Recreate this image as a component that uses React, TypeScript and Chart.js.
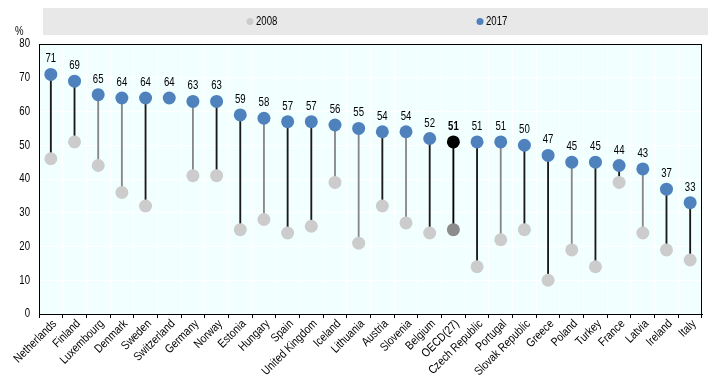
import React, { useEffect, useRef } from "react";
import { Chart, registerables } from "chart.js";

Chart.register(...registerables);

const countries = [
  "Netherlands", "Finland", "Luxembourg", "Denmark", "Sweden", "Switzerland", "Germany", "Norway", "Estonia",
  "Hungary", "Spain", "United Kingdom", "Iceland", "Lithuania", "Austria", "Slovenia", "Belgium", "OECD(27)",
  "Czech Republic", "Portugal", "Slovak Republic", "Greece", "Poland", "Turkey", "France", "Latvia", "Ireland", "Italy",
];
const values2017 = [71, 69, 65, 64, 64, 64, 63, 63, 59, 58, 57, 57, 56, 55, 54, 54, 52, 51, 51, 51, 50, 47, 45, 45, 44, 43, 37, 33];
const values2008: (number | null)[] = [46, 51, 44, 36, 32, null, 41, 41, 25, 28, 24, 26, 39, 21, 32, 27, 24, 25, 14, 22, 25, 10, 19, 14, 39, 24, 19, 16];
// line style group: "k" black, "g" grey
const lineGroup = ["k", "k", "g", "g", "k", "k", "g", "k", "k", "g", "k", "k", "g", "g", "k", "g", "k", "k", "k", "g", "k", "k", "g", "k", "k", "g", "k", "k"];
const yTicks = [0, 10, 20, 30, 40, 50, 60, 70, 80];
const legendLabels = ["2008", "2017"];

const FONT = "'Liberation Sans', Arial, sans-serif";
const SQUEEZE = 0.8;
const BLUE = "#4f81bd";
const LIGHT = "#cccccc";
const OECD = "OECD(27)";

function narrowText(
  ctx: CanvasRenderingContext2D,
  text: string,
  x: number,
  y: number,
  align: CanvasTextAlign,
  baseline: CanvasTextBaseline,
  opts: { rot?: number; bold?: boolean; size?: number; squeeze?: number } = {}
) {
  ctx.save();
  ctx.translate(x, y);
  if (opts.rot) ctx.rotate(opts.rot);
  ctx.scale(opts.squeeze ?? SQUEEZE, 1);
  ctx.font = `${opts.bold ? "bold " : ""}${opts.size ?? 12}px ${FONT}`;
  ctx.fillStyle = "#000";
  ctx.textAlign = align;
  ctx.textBaseline = baseline;
  ctx.fillText(text, 0, 0);
  ctx.restore();
}

export default function App() {
  const ref = useRef<HTMLCanvasElement>(null);
  useEffect(() => {
    const canvas = ref.current!;
    const isOecd = countries.map((c) => c === OECD);

    const bgPlugin = {
      id: "bg",
      beforeDraw(chart: any) {
        const { ctx, chartArea: a } = chart;
        ctx.save();
        ctx.fillStyle = "#f2ffff";
        ctx.fillRect(a.left, a.top, a.right - a.left, a.bottom - a.top);
        // legend box
        ctx.fillStyle = "#e8e8e8";
        ctx.fillRect(43, 8, 665, 27);
        const items = [
          { x: 256, color: LIGHT, label: legendLabels[0] },
          { x: 486, color: BLUE, label: legendLabels[1] },
        ];
        items.forEach((it) => {
          ctx.fillStyle = it.color;
          ctx.beginPath();
          ctx.arc(it.x - 6, 21.5, 3.5, 0, Math.PI * 2);
          ctx.fill();
          narrowText(ctx, it.label, it.x, 22, "left", "middle");
        });
        narrowText(ctx, "%", 15, 35, "left", "alphabetic");
        ctx.restore();
      },
      afterDraw(chart: any) {
        const { ctx, chartArea: a } = chart;
        ctx.save();
        ctx.strokeStyle = "#000";
        ctx.lineWidth = 1;
        ctx.strokeRect(a.left + 0.5, a.top + 0.5, a.right - a.left - 1, a.bottom - a.top);
        ctx.restore();
        // value labels
        const meta = chart.getDatasetMeta(2);
        meta.data.forEach((pt: any, i: number) => {
          narrowText(ctx, String(values2017[i]), pt.x, pt.y - 12, "center", "alphabetic", { bold: isOecd[i] });
        });
        // x labels
        const xs = chart.scales.x;
        countries.forEach((c, i) => {
          const px = xs.getPixelForTick(i);
          narrowText(ctx, c, px + 4, a.bottom + 8, "right", "middle", { rot: -Math.PI / 4, squeeze: 0.85 });
        });
        // y labels
        const ys = chart.scales.y;
        yTicks.forEach((v) => {
          narrowText(ctx, String(v), a.left - 9, ys.getPixelForValue(v), "right", "middle");
        });
      },
    };

    const chart = new Chart(canvas, {
      data: {
        labels: countries,
        datasets: [
          {
            type: "bar",
            label: "range",
            data: countries.map((_, i) => (values2008[i] == null ? null : [values2008[i], values2017[i]])) as any,
            backgroundColor: lineGroup.map((g, i) => (isOecd[i] ? "#000" : g === "k" ? "#1a1a1a" : "#888888")),
            barThickness: 1.2,
            grouped: false,
            order: 3,
          },
          {
            type: "line",
            label: legendLabels[0],
            data: values2008 as any,
            showLine: false,
            pointRadius: 6.5,
            pointHoverRadius: 6.5,
            pointBackgroundColor: isOecd.map((o) => (o ? "#8c8c8c" : LIGHT)),
            pointBorderWidth: 0,
            order: 2,
          },
          {
            type: "line",
            label: legendLabels[1],
            data: values2017,
            showLine: false,
            pointRadius: 6.5,
            pointHoverRadius: 6.5,
            pointBackgroundColor: isOecd.map((o) => (o ? "#000" : BLUE)),
            pointBorderWidth: 0,
            order: 1,
          },
        ],
      },
      options: {
        animation: false,
        responsive: false,
        maintainAspectRatio: false,
        layout: { padding: { top: 44, right: 18, left: 0, bottom: 0 } },
        plugins: { legend: { display: false }, tooltip: { enabled: false } },
        scales: {
          x: {
            offset: true,
            grid: { offset: true, color: "#ffffff", tickColor: "#000", tickLength: 4, drawOnChartArea: true },
            border: { color: "#000", width: 1 },
            ticks: {
              autoSkip: false,
              maxRotation: 0,
              minRotation: 0,
              color: "rgba(0,0,0,0)",
              font: { family: FONT, size: 12 },
              padding: 0,
            },
            afterFit: (s: any) => {
              s.height = 67;
            },
          },
          y: {
            min: 0,
            max: 80,
            afterBuildTicks: (s: any) => {
              s.ticks = yTicks.map((v) => ({ value: v }));
            },
            grid: { color: "#ffffff", drawTicks: false },
            border: { color: "#000", width: 1 },
            ticks: { color: "rgba(0,0,0,0)", font: { family: FONT, size: 12 }, padding: 8 },
            afterFit: (s: any) => {
              s.width = 39;
            },
          },
        },
      },
      plugins: [bgPlugin],
    } as any);
    return () => chart.destroy();
  }, []);

  return (
    <div style={{ position: "absolute", left: 0, top: 0, width: 720, height: 381 }}>
      <canvas ref={ref} width={720} height={381} style={{ width: 720, height: 381 }} />
    </div>
  );
}
